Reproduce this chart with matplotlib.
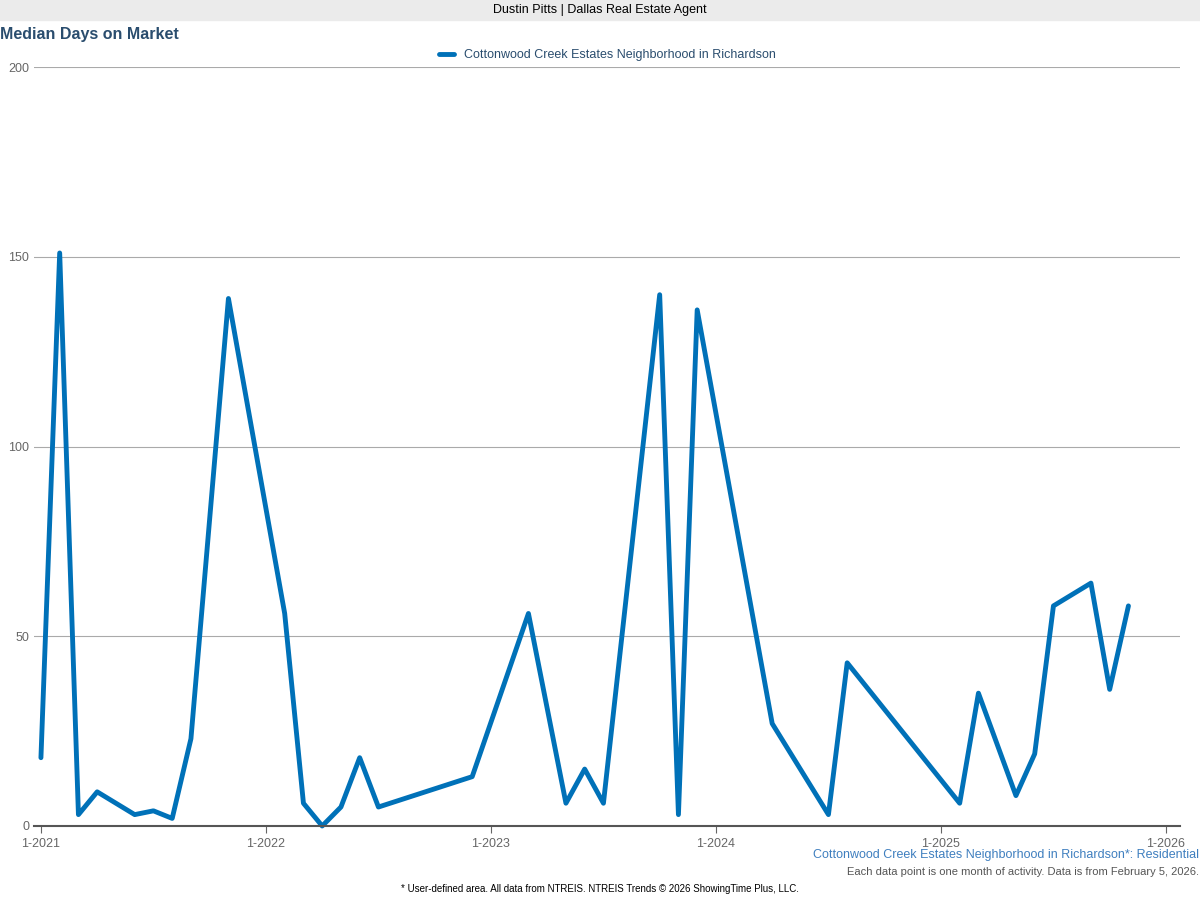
import matplotlib
matplotlib.use("Agg")
import matplotlib.pyplot as plt
from matplotlib.ticker import FixedLocator

months = [0,1,2,3,5,6,7,8,10,13,14,15,16,17,18,23,26,28,29,30,33,34,35,39,42,43,49,50,52,53,54,56,57,58]
values = [18,151,3,9,3,4,2,23,139,56,6,0,5,18,5,13,56,6,15,6,140,3,136,27,3,43,6,35,8,19,58,64,36,58]
tick_pos = [0,12,24,36,48,60]
tick_labels = ["1-2021","1-2022","1-2023","1-2024","1-2025","1-2026"]
series_name = "Cottonwood Creek Estates Neighborhood in Richardson"

plt.rcParams['font.family'] = ['Liberation Sans', 'DejaVu Sans']
fig = plt.figure(figsize=(12, 9), dpi=100)
fig.patches.append(plt.Rectangle((0, 880/900), 1, 20/900, transform=fig.transFigure, color='#ebebeb', zorder=0))
fig.text(0.5, 890/900, "Dustin Pitts | Dallas Real Estate Agent", ha='center', va='center', fontsize=9)
fig.text(0.0, 865/900, "Median Days on Market", ha='left', va='center', fontsize=11.5, fontweight='bold', color='#2a4d6e')

ax = fig.add_axes([34/1200, (900-826)/900, (1180-34)/1200, (826-67)/900])
ax.plot(months, values, color='#0071b8', lw=3.5, solid_joinstyle='round', solid_capstyle='round', label=series_name, clip_on=False)
ax.set_ylim(0, 200)
ax.set_xlim(-0.37, 60.75)
ax.xaxis.set_major_locator(FixedLocator(tick_pos))
ax.set_xticklabels(tick_labels)
ax.set_yticks([0, 50, 100, 150, 200])
ax.grid(axis='y', color='#aaaaaa', lw=0.8)
ax.set_axisbelow(True)
for s in ['top', 'right', 'left']:
    ax.spines[s].set_visible(False)
ax.spines['bottom'].set_color('#555555')
ax.spines['bottom'].set_linewidth(1.5)
ax.tick_params(axis='y', length=0, labelsize=9, colors='#666666')
ax.tick_params(axis='x', length=5, labelsize=9, colors='#666666')
leg = ax.legend(loc='lower center', bbox_to_anchor=(0.5, 0.993), frameon=False, fontsize=9, handlelength=1.2)
for t in leg.get_texts():
    t.set_color('#2a4d6e')

fig.text(0.999, (900-855)/900, series_name + "*: Residential", ha='right', va='center', fontsize=9, color='#3f7fbf')
fig.text(0.999, (900-872)/900, "Each data point is one month of activity. Data is from February 5, 2026.", ha='right', va='center', fontsize=8, color='#555555')
fig.text(0.5, (900-889)/900, "* User-defined area. All data from NTREIS. NTREIS Trends © 2026 ShowingTime Plus, LLC.", ha='center', va='center', fontsize=7)
fig.savefig("out.png")
